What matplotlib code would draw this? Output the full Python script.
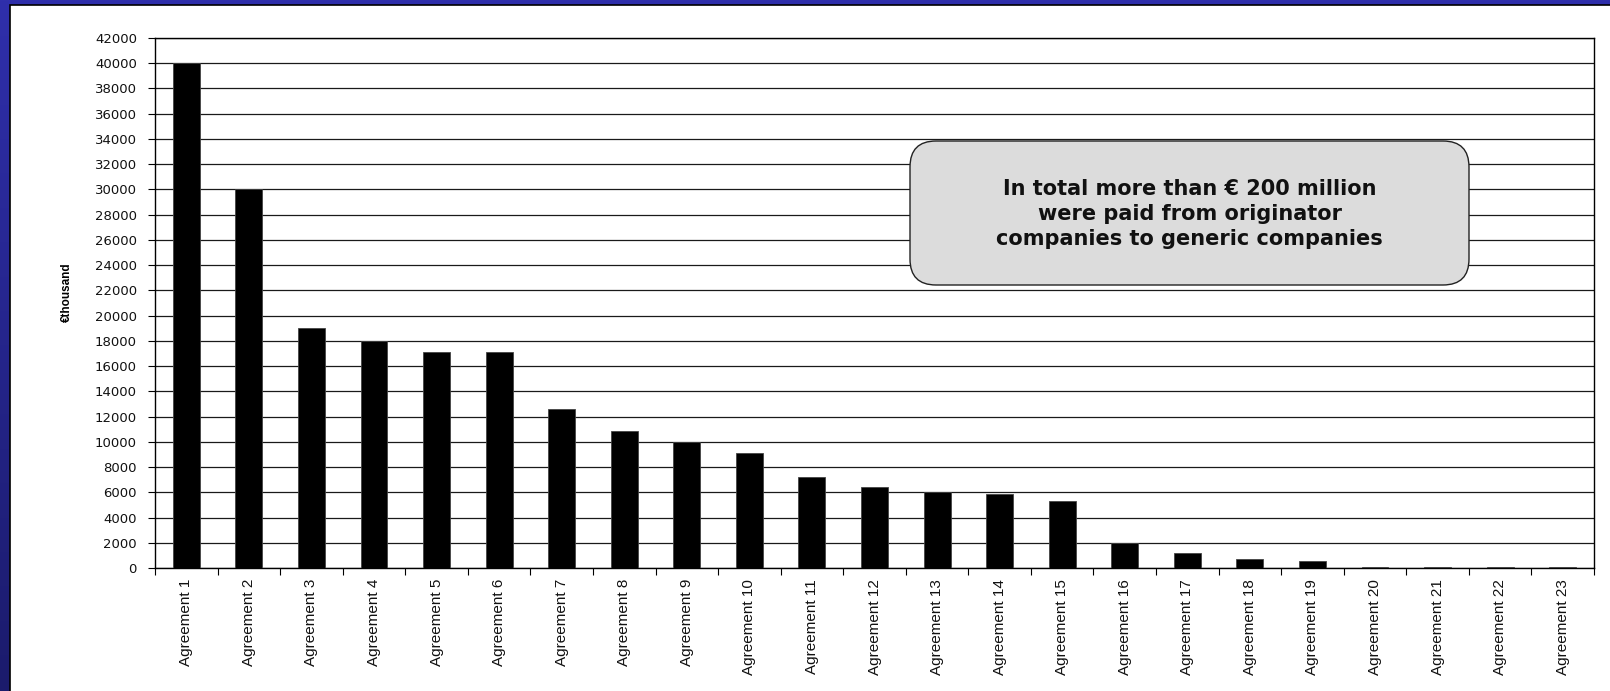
import numpy as np
import matplotlib.pyplot as plt
from matplotlib.patches import Rectangle, FancyBboxPatch
from matplotlib.colors import LinearSegmentedColormap

plt.rcParams['font.family'] = ['Liberation Sans', 'DejaVu Sans']

# data (EUR thousand)
agreements = ['Agreement %d' % i for i in range(1, 24)]
payments = [40000, 30000, 19000, 18000, 17150, 17150, 12600, 10870, 10000,
            9100, 7250, 6380, 6000, 5850, 5300, 2000, 1200, 750, 550,
            40, 40, 40, 40]
y_ticks = list(range(0, 42001, 2000))
note = 'In total more than € 200 million\nwere paid from originator\ncompanies to generic companies'

W, H = 1610, 691
fig = plt.figure(figsize=(W / 100, H / 100), dpi=100)

# blue slide background with a vertical gradient
bg = fig.add_axes([0, 0, 1, 1], zorder=-10)
grad = np.linspace(0, 1, 256).reshape(-1, 1)
blue = LinearSegmentedColormap.from_list('blue', ['#2f2fab', '#1b1b6c'])
bg.imshow(grad, aspect='auto', cmap=blue, extent=[0, 1, 0, 1])
bg.add_patch(Rectangle((10 / W, -0.05), 1.1, 1.05 - 5 / H, facecolor='white',
                       edgecolor='black', lw=1.2))
bg.set_xlim(0, 1)
bg.set_ylim(0, 1)
bg.axis('off')

ax = fig.add_axes([155 / W, 1 - 568 / H, (1594 - 155) / W, (568 - 38) / H])
x = np.arange(len(agreements))
ax.bar(x, payments, width=0.43, color='black', edgecolor='#444444', lw=0.6, zorder=3)

ax.set_xlim(-0.5, len(agreements) - 0.5)
ax.set_ylim(0, 42000)
ax.set_yticks(y_ticks)
ax.set_yticklabels([str(v) for v in y_ticks], fontsize=9.5, color='#111111',
                   family=['DejaVu Sans'])
ax.yaxis.grid(True, color='#1a1a1a', lw=0.9, zorder=0)
ax.set_axisbelow(True)

# category boundaries as ticks, labels at centres
ax.set_xticks(np.arange(-0.5, len(agreements), 1))
ax.set_xticklabels([])
ax.set_xticks(x, minor=True)
ax.set_xticklabels(agreements, minor=True, rotation=90, fontsize=11, color='#111111')
ax.tick_params(axis='x', which='minor', length=0, pad=8)
ax.tick_params(axis='x', which='major', length=5, direction='out', color='black')
ax.tick_params(axis='y', length=5, direction='out', pad=8)
for s in ax.spines.values():
    s.set_color('black')
    s.set_linewidth(1)

ax.set_ylabel('€thousand', fontsize=8.5, fontweight='bold')
ax.yaxis.set_label_coords((73 - 155) / 1439, 0.52)

# rounded note box
bx0, bx1 = 910 / W, 1469 / W
by0, by1 = 1 - 285 / H, 1 - 141 / H
box = FancyBboxPatch((bx0, by0), bx1 - bx0, by1 - by0,
                     boxstyle='round,pad=0,rounding_size=%f' % (26 / W),
                     mutation_aspect=W / H, transform=fig.transFigure,
                     facecolor='#dcdcdc', edgecolor='#222222', lw=1, zorder=5)
fig.patches.append(box)
fig.text((bx0 + bx1) / 2, 1 - 214 / H, note, ha='center', va='center',
         fontsize=15, fontweight='bold', color='#111111', linespacing=1.3,
         family=['DejaVu Sans'], zorder=6)

fig.savefig('out.png', dpi=100)
